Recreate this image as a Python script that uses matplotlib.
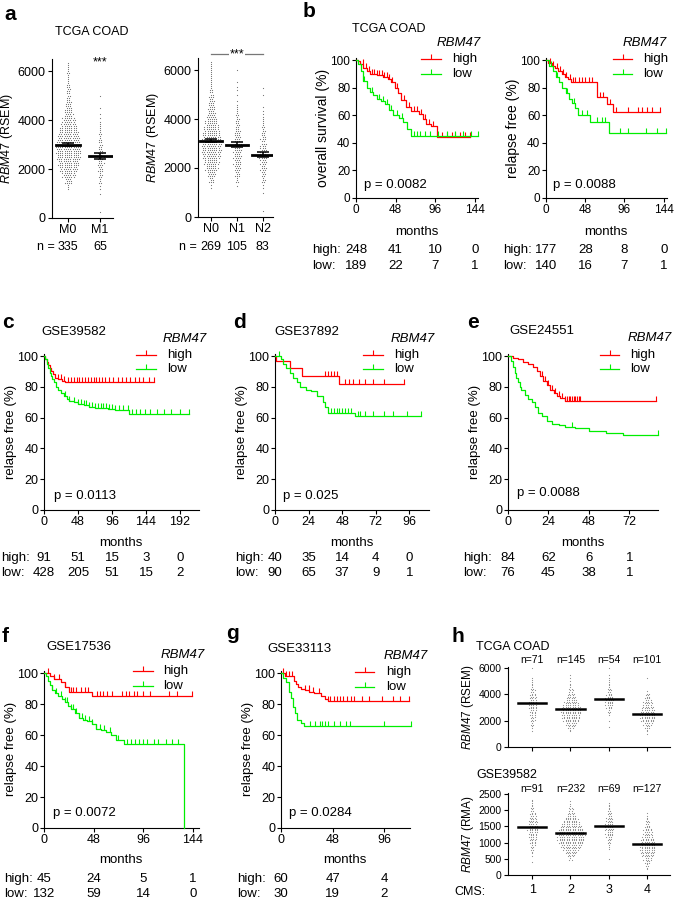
import numpy as np
import matplotlib
matplotlib.use('Agg')
import matplotlib.pyplot as plt
from matplotlib.lines import Line2D
from matplotlib import transforms

plt.rcParams['font.family'] = ['Liberation Sans', 'DejaVu Sans']
plt.rcParams['mathtext.fontset'] = 'custom'
plt.rcParams['mathtext.rm'] = 'Liberation Sans'
plt.rcParams['mathtext.it'] = 'Liberation Sans:italic'
plt.rcParams['font.size'] = 9
plt.rcParams['axes.linewidth'] = 0.8

RED = '#FF0000'
GREEN = '#00EE00'
DOT = '#6e6e6e'

# ---------------- DATA ----------------
# panel a: dot counts per RSEM bin (bin centre -> number of samples)
a_m_labels = ['M0', 'M1']
a_m_n = [335, 65]
bins_M0 = {1250: 3, 1500: 10, 1750: 18, 2000: 24, 2250: 28, 2500: 32, 2750: 34, 3000: 34,
           3250: 30, 3500: 26, 3750: 22, 4000: 18, 4250: 12, 4500: 10, 4750: 8, 5000: 6,
           5250: 6, 5500: 4, 5750: 3, 6000: 4, 6250: 3}
bins_M1 = {250: 1, 1000: 1, 1250: 2, 1500: 4, 1750: 5, 2000: 7, 2250: 8, 2500: 8, 2750: 7,
           3000: 6, 3250: 4, 3500: 4, 3750: 3, 4000: 2, 4250: 1, 4500: 1, 5000: 1}
a_m_mean = [3000, 2520]
a_m_sem = [60, 120]

a_n_labels = ['N0', 'N1', 'N2']
a_n_n = [269, 105, 83]
bins_N0 = {1250: 2, 1500: 7, 1750: 12, 2000: 17, 2250: 20, 2500: 24, 2750: 26, 3000: 27,
           3250: 25, 3500: 22, 3750: 19, 4000: 16, 4250: 11, 4500: 10, 4750: 8, 5000: 7,
           5250: 4, 5500: 3, 5750: 3, 6000: 3, 6250: 3}
bins_N1 = {1250: 1, 1500: 4, 1750: 7, 2000: 9, 2250: 10, 2500: 11, 2750: 11, 3000: 11,
           3250: 9, 3500: 8, 3750: 6, 4000: 5, 4250: 4, 4500: 3, 4750: 1, 5000: 1,
           5250: 2, 5500: 1, 6000: 1}
bins_N2 = {250: 1, 1000: 1, 1250: 2, 1500: 5, 1750: 6, 2000: 8, 2250: 9, 2500: 10, 2750: 9,
           3000: 8, 3250: 7, 3500: 5, 3750: 4, 4000: 3, 4250: 2, 4500: 1, 5000: 1, 5250: 1}
a_n_mean = [3120, 2950, 2550]
a_n_sem = [65, 110, 110]

# panel h
h_cms = ['1', '2', '3', '4']
h_top_n = [71, 145, 54, 101]
h_top_bins = [
    {1250: 1, 1500: 2, 1750: 3, 2000: 4, 2250: 4, 2500: 5, 2750: 6, 3000: 7, 3250: 8, 3500: 7,
     3750: 6, 4000: 5, 4250: 4, 4500: 3, 4750: 2, 5000: 2, 5250: 1, 6000: 1},
    {1250: 2, 1500: 6, 1750: 10, 2000: 13, 2250: 15, 2500: 16, 2750: 17, 3000: 16, 3250: 13,
     3500: 11, 3750: 8, 4000: 6, 4250: 4, 4500: 3, 4750: 2, 5000: 1, 5250: 1, 5500: 1},
    {1500: 1, 2000: 1, 2500: 2, 2750: 3, 3000: 5, 3250: 7, 3500: 8, 3750: 7, 4000: 5, 4250: 4,
     4500: 3, 4750: 2, 5000: 2, 5250: 1, 5500: 1, 6000: 1, 6250: 1},
    {1000: 1, 1250: 2, 1500: 5, 1750: 8, 2000: 11, 2250: 13, 2500: 13, 2750: 12, 3000: 10,
     3250: 8, 3500: 7, 3750: 5, 4000: 4, 4250: 1, 5250: 1},
]
h_top_mean = [3380, 2850, 3620, 2500]
h_bot_n = [91, 232, 69, 127]
h_bot_bins = [
    {400: 1, 600: 1, 700: 2, 800: 3, 900: 4, 1000: 5, 1100: 6, 1200: 7, 1300: 8, 1400: 9,
     1500: 9, 1600: 8, 1700: 7, 1800: 6, 1900: 5, 2000: 3, 2100: 3, 2200: 2, 2300: 2},
    {500: 3, 600: 6, 700: 10, 800: 14, 900: 18, 1000: 21, 1100: 23, 1200: 24, 1300: 23,
     1400: 21, 1500: 18, 1600: 15, 1700: 12, 1800: 9, 1900: 6, 2000: 4, 2100: 3, 2200: 1, 2300: 1},
    {500: 1, 800: 1, 900: 2, 1000: 3, 1100: 4, 1200: 6, 1300: 7, 1400: 8, 1500: 8, 1600: 7,
     1700: 6, 1800: 5, 1900: 4, 2000: 3, 2100: 2, 2200: 2},
    {200: 2, 300: 3, 400: 5, 500: 7, 600: 10, 700: 12, 800: 13, 900: 13, 1000: 12, 1100: 11,
     1200: 9, 1300: 8, 1400: 7, 1500: 5, 1600: 4, 1700: 3, 1800: 2, 1900: 1},
]
h_bot_mean = [1470, 1300, 1500, 950]

# Kaplan-Meier curves: step times, survival (%), last follow-up, censor times
b_os_hi_t = [0, 2, 5, 9, 13, 17, 25, 33, 39, 43, 47, 51, 55, 61, 67, 77, 81, 85, 91, 98]
b_os_hi_s = [100, 99, 97, 94, 92, 90, 89, 88, 86, 84, 80, 76, 71, 66, 63, 61, 57, 54, 52, 44]
b_os_hi_end = 138
b_os_hi_c = [8, 12, 16, 20, 22, 26, 28, 31, 34, 37, 40, 44, 50, 58, 64, 70, 74, 79, 84, 88,
             94, 104, 110, 116, 120, 126, 132, 138]
b_os_lo_t = [0, 3, 6, 9, 13, 17, 21, 25, 30, 35, 40, 45, 52, 57, 62, 67]
b_os_lo_s = [100, 97, 92, 85, 80, 77, 75, 72, 70, 68, 64, 60, 58, 55, 50, 45]
b_os_lo_end = 148
b_os_lo_c = [10, 20, 28, 33, 38, 42, 50, 56, 70, 74, 78, 84, 90, 100, 110, 120, 130, 140, 148]

b_rf_hi_t = [0, 3, 7, 11, 15, 19, 23, 27, 31, 62, 74, 82]
b_rf_hi_s = [100, 98, 96, 94, 92, 90, 88, 86, 84, 73, 68, 62]
b_rf_hi_end = 139
b_rf_hi_c = [5, 9, 13, 17, 21, 25, 29, 33, 36, 40, 44, 48, 52, 56, 66, 70, 78, 86, 100, 112,
             118, 124, 130, 139]
b_rf_lo_t = [0, 4, 8, 12, 16, 20, 24, 28, 32, 36, 39, 54, 77]
b_rf_lo_s = [100, 96, 92, 88, 84, 80, 76, 72, 69, 65, 60, 55, 47]
b_rf_lo_end = 147
b_rf_lo_c = [6, 14, 26, 34, 44, 50, 62, 68, 72, 90, 100, 122, 136, 147]

c_hi_t = [0, 2, 4, 6, 8, 10, 13, 16, 20, 25, 30]
c_hi_s = [100, 98, 96, 94, 92, 90, 88, 86, 85, 84, 83]
c_hi_end = 155
c_hi_c = [20, 24, 28, 34, 38, 42, 46, 50, 54, 58, 62, 66, 70, 74, 78, 82, 86, 92, 98, 104,
          110, 116, 122, 128, 134, 140, 148, 155]
c_lo_t = [0, 2, 4, 6, 8, 10, 12, 14, 17, 20, 24, 28, 32, 36, 42, 48, 56, 64, 72, 80, 90, 100, 120]
c_lo_s = [100, 98, 95, 92, 89, 87, 85, 83, 80, 78, 76, 74, 72, 71, 70, 69, 68, 67, 66.5, 66,
          65.5, 65, 62.5]
c_lo_end = 205
c_lo_c = [30, 36, 42, 48, 52, 56, 60, 64, 68, 72, 76, 80, 84, 88, 92, 96, 100, 106, 112, 118,
          124, 130, 136, 142, 150, 160, 170, 180, 192, 205]

d_hi_t = [0, 1, 11, 19, 46]
d_hi_s = [100, 97, 92, 87, 82]
d_hi_end = 92
d_hi_c = [36, 38, 40, 42, 44, 50, 53, 56, 60, 64, 70, 78, 92]
d_lo_t = [0, 4, 6, 8, 11, 13, 16, 18, 22, 26, 30, 34, 36, 38, 57]
d_lo_s = [100, 98, 95, 92, 89, 86, 83, 80, 78, 77, 74, 70, 67, 63, 61]
d_lo_end = 104
d_lo_c = [3, 40, 42, 44, 46, 48, 50, 52, 54, 59, 61, 64, 70, 78, 84, 94, 104]

e_hi_t = [0, 3, 6, 9, 12, 15, 17, 19, 21, 23, 25, 27, 29, 31, 34]
e_hi_s = [100, 99, 98, 96, 95, 93, 90, 87, 84, 81, 78, 76, 74, 73, 71]
e_hi_end = 88
e_hi_c = [20, 22, 24, 26, 28, 30, 32, 34, 35, 36, 37, 38, 39, 40, 41, 42, 43, 88]
e_lo_t = [0, 2, 3, 4, 5, 6, 7, 8, 10, 12, 14, 16, 18, 20, 23, 26, 30, 34, 40, 48, 58, 68]
e_lo_s = [100, 97, 93, 89, 86, 83, 80, 78, 75, 72, 70, 67, 63, 61, 58, 56, 55, 54, 53, 51.5,
          50, 48.5]
e_lo_end = 89
e_lo_c = [38, 89]

f_hi_t = [0, 6, 10, 16, 20, 24, 46]
f_hi_s = [100, 98, 96, 94, 91, 88, 85]
f_hi_end = 143.5
f_hi_c = [4, 10, 15, 20, 26, 28, 31, 36, 40, 43, 51, 54, 57, 61, 66, 75, 79, 82, 87, 90, 96,
          103, 121, 129, 143.5]
f_lo_t = [0, 2, 4, 6, 8, 11, 14, 17, 20, 23, 26, 30, 34, 38, 42, 46, 50, 55, 60, 65, 70, 77, 135]
f_lo_s = [100, 98, 95, 92, 89, 87, 85, 83, 81, 79, 77, 74, 71, 70, 69, 67, 64, 63, 62, 60,
          57, 54, 0]
f_lo_end = 135
f_lo_c = [8, 12, 16, 20, 22, 26, 28, 31, 34, 37, 40, 44, 46, 50, 54, 58, 64, 72, 80, 84, 88,
          92, 96, 100, 106, 110, 118, 124, 130]

g_hi_t = [0, 4, 12, 14, 16, 19, 22, 26, 31, 37, 41, 44]
g_hi_s = [100, 98, 95, 93, 91, 90, 89, 88, 87, 85, 83, 82]
g_hi_end = 119
g_hi_c = [2, 5, 7.5, 10.6, 22.5, 25.6, 30, 35, 44, 46, 49, 52, 55, 58, 61, 65, 68, 75, 82,
          94, 104, 111, 119]
g_lo_t = [0, 2, 5, 7, 9, 11, 13, 15, 19, 21]
g_lo_s = [100, 97, 94, 88, 84, 78, 74, 70, 68, 65.5]
g_lo_end = 121
g_lo_c = [27, 32, 36, 38, 41, 44, 49, 55, 60, 64, 96, 121]

# numbers at risk
b_os_times = [0, 48, 96, 144]; b_os_risk_hi = [248, 41, 10, 0]; b_os_risk_lo = [189, 22, 7, 1]
b_rf_times = [0, 48, 96, 144]; b_rf_risk_hi = [177, 28, 8, 0]; b_rf_risk_lo = [140, 16, 7, 1]
c_times = [0, 48, 96, 144, 192]; c_risk_hi = [91, 51, 15, 3, 0]; c_risk_lo = [428, 205, 51, 15, 2]
d_times = [0, 24, 48, 72, 96]; d_risk_hi = [40, 35, 14, 4, 0]; d_risk_lo = [90, 65, 37, 9, 1]
e_times = [0, 24, 48, 72]; e_risk_hi = [84, 62, 6, 1]; e_risk_lo = [76, 45, 38, 1]
f_times = [0, 48, 96, 144]; f_risk_hi = [45, 24, 5, 1]; f_risk_lo = [132, 59, 14, 0]
g_times = [0, 48, 96]; g_risk_hi = [60, 47, 4]; g_risk_lo = [30, 19, 2]

# ---------------- FIGURE ----------------
W, H = 675, 901
fig = plt.figure(figsize=(W / 100, H / 100), dpi=100)

FS_TXT = 9.5


def fx(x):
    return x / W


def fy(y):
    return 1 - y / H


def ftext(x, y, s, **kw):
    kw.setdefault('fontsize', FS_TXT)
    return fig.text(fx(x), fy(y), s, **kw)


def add_ax(l, t, r, b, labelsize=9, pad=2):
    ax = fig.add_axes([l / W, 1 - b / H, (r - l) / W, (b - t) / H])
    ax.spines['top'].set_visible(False)
    ax.spines['right'].set_visible(False)
    ax.tick_params(direction='out', length=2.6, width=0.8, pad=pad, labelsize=labelsize)
    ax.patch.set_alpha(0)
    return ax


def swarm(ax, xpos, bins, binw, dx, maxpr, minrows, color=DOT, s=0.7):
    xs, ys = [], []
    for c, n in bins.items():
        rows = max(int(np.ceil(n / maxpr)), min(n, minrows))
        counts = [n // rows + (1 if j < n % rows else 0) for j in range(rows)]
        for j, k in enumerate(counts):
            y = c + (j - (rows - 1) / 2) * binw / rows
            shift = (dx / 2) * (j % 2) if k > 1 else 0
            for i in range(k):
                xs.append(xpos + (i - (k - 1) / 2) * dx + shift)
                ys.append(y)
    ax.scatter(xs, ys, s=s, color=color, linewidths=0, zorder=2)


mathlab = lambda unit: r'$\it{RBM47}$ (' + unit + ')'

# ---- panel a ----
ax = add_ax(52, 58.75, 113, 218)
for i, b in enumerate([bins_M0, bins_M1]):
    swarm(ax, i, b, 250, 0.07, 12, 3)
    ax.plot([i - 0.36, i + 0.36], [a_m_mean[i]] * 2, color='k', lw=2.0, zorder=3)
    ax.errorbar(i, a_m_mean[i], yerr=a_m_sem[i], color='k', capsize=4, lw=1.1, capthick=1.1, zorder=3)
ax.set_xlim(-0.5, 1.4)
ax.set_ylim(0, 6500)
ax.set_yticks([0, 2000, 4000, 6000])
ax.set_xticks([0, 1])
ax.set_xticklabels(a_m_labels)
ax.set_ylabel(mathlab('RSEM'), fontsize=9, labelpad=2)
ax.text(1, 6330, '***', ha='center', va='center', fontsize=9)
tr = transforms.blended_transform_factory(ax.transData, fig.transFigure)
ftext(55, 247, 'n =', ha='right', va='center', fontsize=9)
for i, n in enumerate(a_m_n):
    ax.text(i, fy(247), str(n), transform=tr, ha='center', va='center', fontsize=9)
ftext(92, 32, 'TCGA COAD', ha='center', va='center', fontsize=9)

ax = add_ax(198, 57.75, 273, 217)
for i, b in enumerate([bins_N0, bins_N1, bins_N2]):
    swarm(ax, i, b, 250, 0.085, 9, 3)
    ax.plot([i - 0.42, i + 0.42], [a_n_mean[i]] * 2, color='k', lw=2.0, zorder=3)
    ax.errorbar(i, a_n_mean[i], yerr=a_n_sem[i], color='k', capsize=4, lw=1.1, capthick=1.1, zorder=3)
ax.set_xlim(-0.5, 2.4)
ax.set_ylim(0, 6500)
ax.set_yticks([0, 2000, 4000, 6000])
ax.set_xticks([0, 1, 2])
ax.set_xticklabels(a_n_labels)
ax.set_ylabel(mathlab('RSEM'), fontsize=9, labelpad=2)
ax.plot([0, 2], [6650, 6650], color='#777777', lw=0.9, clip_on=False)
ax.text(1, 6650, '***', ha='center', va='center', fontsize=9, clip_on=False,
        bbox=dict(facecolor='white', edgecolor='none', pad=0.5))
tr = transforms.blended_transform_factory(ax.transData, fig.transFigure)
ftext(197, 247, 'n =', ha='right', va='center', fontsize=9)
for i, n in enumerate(a_n_n):
    ax.text(i, fy(247), str(n), transform=tr, ha='center', va='center', fontsize=9)


# ---- KM helpers ----
def km(ax, t, s, end, cens, color):
    tt = list(t) + [end]
    ss = list(s) + [s[-1]]
    ax.step(tt, ss, where='post', color=color, lw=0.9, clip_on=False, zorder=3)
    idx = np.searchsorted(t, cens, side='right') - 1
    ax.plot(cens, np.array(s, dtype=float)[idx], linestyle='none', marker=2, ms=3.5,
            mew=0.8, color=color, clip_on=False, zorder=3)


def km_legend(tx, ty, x0, x1, xt, yh, yl):
    ftext(tx, ty, 'RBM47', style='italic', ha='center', va='center')
    for y, c, lab in [(yh, RED, 'high'), (yl, GREEN, 'low')]:
        fig.add_artist(Line2D([fx(x0), fx(x1)], [fy(y), fy(y)], color=c, lw=0.9))
        fig.add_artist(Line2D([fx((x0 + x1) / 2)], [fy(y)], marker=2, ms=3.5, mew=0.8, color=c))
        ftext(xt, y, lab, ha='left', va='center')


def risk(ax, lx, yh, yl, times, hi, lo):
    tr = transforms.blended_transform_factory(ax.transData, fig.transFigure)
    ftext(lx, yh, 'high:', ha='left', va='center')
    ftext(lx, yl, 'low:', ha='left', va='center')
    for t, h, l in zip(times, hi, lo):
        ax.text(t, fy(yh), str(h), transform=tr, ha='center', va='center', fontsize=FS_TXT)
        ax.text(t, fy(yl), str(l), transform=tr, ha='center', va='center', fontsize=FS_TXT)


def km_axes(l, t, r, b, xmax, xticks, ylabel, tick_fs, ylab_fs):
    ax = add_ax(l, t, r, b, labelsize=tick_fs, pad=1.5)
    ax.set_xlim(0, xmax)
    ax.set_ylim(0, 101.5)
    ax.set_xticks(xticks)
    ax.set_yticks([0, 20, 40, 60, 80, 100])
    ax.set_ylabel(ylabel, fontsize=ylab_fs, labelpad=0.5)
    return ax


# ---- panel b ----
ax = km_axes(356, 58, 478, 198, 148, [0, 48, 96, 144], 'overall survival (%)', 8.5, 10)
km(ax, b_os_hi_t, b_os_hi_s, b_os_hi_end, b_os_hi_c, RED)
km(ax, b_os_lo_t, b_os_lo_s, b_os_lo_end, b_os_lo_c, GREEN)
km_legend(459, 43, 421, 441, 452, 59, 74)
ftext(364, 185, 'p = 0.0082', ha='left', va='center')
ftext(417, 232, 'months', ha='center', va='center')
risk(ax, 312, 250, 266, b_os_times, b_os_risk_hi, b_os_risk_lo)
ftext(389, 29, 'TCGA COAD', ha='center', va='center', fontsize=9)

ax = km_axes(546, 58, 667, 198, 148, [0, 48, 96, 144], 'relapse free (%)', 8.5, 10)
km(ax, b_rf_hi_t, b_rf_hi_s, b_rf_hi_end, b_rf_hi_c, RED)
km(ax, b_rf_lo_t, b_rf_lo_s, b_rf_lo_end, b_rf_lo_c, GREEN)
km_legend(645, 43, 613, 632, 643, 59, 74)
ftext(553, 185, 'p = 0.0088', ha='left', va='center')
ftext(606, 232, 'months', ha='center', va='center')
risk(ax, 503, 250, 266, b_rf_times, b_rf_risk_hi, b_rf_risk_lo)

# ---- panel c ----
ax = km_axes(44, 353.7, 199, 510, 219, [0, 48, 96, 144, 192], 'relapse free (%)', 9, 9.5)
km(ax, c_hi_t, c_hi_s, c_hi_end, c_hi_c, RED)
km(ax, c_lo_t, c_lo_s, c_lo_end, c_lo_c, GREEN)
km_legend(185, 339, 136, 156, 167, 355, 369)
ftext(54, 496, 'p = 0.0113', ha='left', va='center')
ftext(121, 543, 'months', ha='center', va='center')
risk(ax, 1, 558, 573, c_times, c_risk_hi, c_risk_lo)
ftext(74, 332, 'GSE39582', ha='center', va='center')

# ---- panel d ----
ax = km_axes(275, 353.7, 429, 510, 110, [0, 24, 48, 72, 96], 'relapse free (%)', 9, 9.5)
km(ax, d_hi_t, d_hi_s, d_hi_end, d_hi_c, RED)
km(ax, d_lo_t, d_lo_s, d_lo_end, d_lo_c, GREEN)
km_legend(413, 339, 363, 383, 394, 355, 369)
ftext(283, 496, 'p = 0.025', ha='left', va='center')
ftext(352, 543, 'months', ha='center', va='center')
risk(ax, 235, 558, 573, d_times, d_risk_hi, d_risk_lo)
ftext(307, 332, 'GSE37892', ha='center', va='center')

# ---- panel e ----
ax = km_axes(508, 353.7, 658, 510, 89, [0, 24, 48, 72], 'relapse free (%)', 9, 9.5)
km(ax, e_hi_t, e_hi_s, e_hi_end, e_hi_c, RED)
km(ax, e_lo_t, e_lo_s, e_lo_end, e_lo_c, GREEN)
km_legend(650, 338, 600, 619, 630, 355, 369)
ftext(517, 493, 'p = 0.0088', ha='left', va='center')
ftext(583, 543, 'months', ha='center', va='center')
risk(ax, 463, 558, 573, e_times, e_risk_hi, e_risk_lo)
ftext(542, 331, 'GSE24551', ha='center', va='center')

# ---- panel f ----
ax = km_axes(44, 670.7, 199, 828, 150, [0, 48, 96, 144], 'relapse free (%)', 9, 9.5)
km(ax, f_hi_t, f_hi_s, f_hi_end, f_hi_c, RED)
km(ax, f_lo_t, f_lo_s, f_lo_end, f_lo_c, GREEN)
km_legend(183, 655, 133, 153, 163, 671, 686)
ftext(53, 813, 'p = 0.0072', ha='left', va='center')
ftext(121, 860, 'months', ha='center', va='center')
risk(ax, 4, 879, 894, f_times, f_risk_hi, f_risk_lo)
ftext(79, 647, 'GSE17536', ha='center', va='center')

# ---- panel g ----
ax = km_axes(281, 670.7, 410, 828, 120, [0, 48, 96], 'relapse free (%)', 9, 9.5)
km(ax, g_hi_t, g_hi_s, g_hi_end, g_hi_c, RED)
km(ax, g_lo_t, g_lo_s, g_lo_end, g_lo_c, GREEN)
km_legend(406, 656, 355, 374, 386, 672, 687)
ftext(289, 813, 'p = 0.0284', ha='left', va='center')
ftext(345, 860, 'months', ha='center', va='center')
risk(ax, 237, 879, 894, g_times, g_risk_hi, g_risk_lo)
ftext(299, 649, 'GSE33113', ha='center', va='center')

# ---- panel h ----
ax = add_ax(508, 666.7, 670, 747, labelsize=7.5)
for i, b in enumerate(h_top_bins):
    swarm(ax, i, b, 250, 0.062, 14, 2, color='#8a8a8a', s=0.7)
    ax.plot([i - 0.37, i + 0.37], [h_top_mean[i]] * 2, color='k', lw=1.8, zorder=3)
ax.set_xlim(-0.63, 3.6)
ax.set_ylim(0, 6100)
ax.set_yticks([0, 2000, 4000, 6000])
ax.set_xticks(range(4))
ax.set_xticklabels([])
ax.set_ylabel(mathlab('RSEM'), fontsize=8.5, labelpad=2)
tr = transforms.blended_transform_factory(ax.transData, fig.transFigure)
for i, n in enumerate(h_top_n):
    ax.text(i, fy(660), 'n=%d' % n, transform=tr, ha='center', va='center', fontsize=7.5)
ftext(476, 647, 'TCGA COAD', ha='left', va='center', fontsize=9)

ax = add_ax(508, 793.4, 670, 875, labelsize=7.5)
for i, b in enumerate(h_bot_bins):
    swarm(ax, i, b, 100, 0.062, 13, 2, color='#8a8a8a', s=0.7)
    ax.plot([i - 0.37, i + 0.37], [h_bot_mean[i]] * 2, color='k', lw=1.8, zorder=3)
ax.set_xlim(-0.63, 3.6)
ax.set_ylim(0, 2520)
ax.set_yticks([0, 500, 1000, 1500, 2000, 2500])
ax.set_xticks(range(4))
ax.set_xticklabels(h_cms, fontsize=9)
ax.tick_params(axis='x', pad=4)
ax.set_ylabel(mathlab('RMA'), fontsize=8.5, labelpad=2)
tr = transforms.blended_transform_factory(ax.transData, fig.transFigure)
for i, n in enumerate(h_bot_n):
    ax.text(i, fy(789), 'n=%d' % n, transform=tr, ha='center', va='center', fontsize=7.5)
ftext(476, 775, 'GSE39582', ha='left', va='center', fontsize=9)
ftext(470, 892, 'CMS:', ha='center', va='center', fontsize=9)

# ---- panel letters ----
for lab, x, y in [('a', 4, 20), ('b', 303, 17), ('c', 2, 328), ('d', 233, 328), ('e', 467, 328),
                  ('f', 2, 642), ('g', 226, 639), ('h', 452, 642)]:
    ftext(x, y, lab, ha='left', va='baseline', fontsize=15, fontweight='bold')

fig.savefig('out.png', dpi=100)
